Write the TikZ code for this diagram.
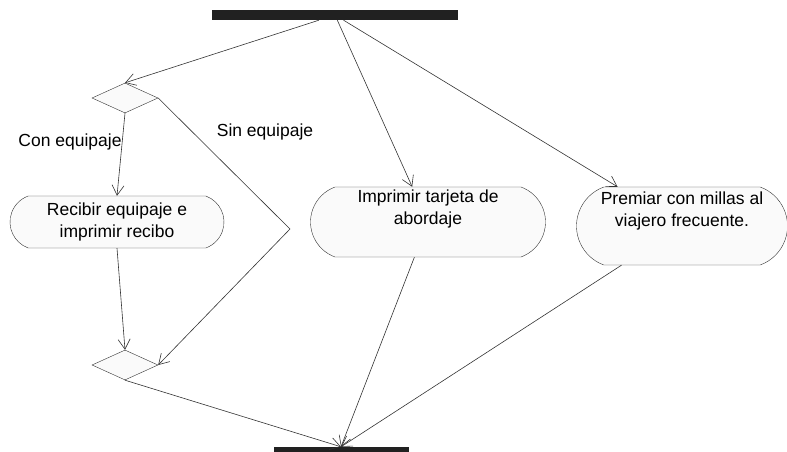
\documentclass[tikz,border=0pt]{standalone}
\usepackage{fontspec}
\setmainfont{Liberation Sans}
\usetikzlibrary{arrows.meta,shapes.geometric,shapes.misc}

\begin{document}
\begin{tikzpicture}
	[x=1pt,y=-1pt,>={Straight Barb[length=10pt,width=12pt]},
	every node/.style={font=\fontsize{17.5}{22}\selectfont},
	bar/.style={rectangle, fill=black!87, inner sep=0pt},
	branch/.style={diamond, draw=black!80, fill=black!2, inner sep=0pt, minimum width=66pt, minimum height=30pt},
	action/.style={rounded rectangle, rounded rectangle arc length=140, draw=black!80, fill=black!2, align=center, inner sep=0pt}]
	\useasboundingbox (0,0) rectangle (787,452);
	\node[bar, minimum width=246pt, minimum height=10pt] (fork) at (335,15) {};
	\node[branch] (d1) at (125,98) {};
	\node[action, minimum width=214pt, minimum height=52pt] (a1) at (117,222) {Recibir equipaje e\\imprimir recibo};
	\node[action, minimum width=235pt, minimum height=70pt, text depth=30pt] (a2) at (428,222) {Imprimir tarjeta de\\abordaje};
	\node[action, minimum width=211pt, minimum height=78pt, text depth=34pt] (a3) at (682,226) {Premiar con millas al\\viajero frecuente.};
	\node[branch] (d2) at (125,365) {};
	\node[bar, minimum width=135pt, minimum height=9pt] (join) at (341,451.5) {};
	\coordinate (bend) at (290,229);
	\node (con) at (70,142) {Con equipaje};
	\node (sin) at (265,132) {Sin equipaje};
	
	\foreach \from/\to in {fork/d1.north,fork/a2,fork/a3,d1.south/a1.north,a1.south/d2.north,d2.south/join.north,a2/join.north,a3/join.north}
		\draw[->, black!80, line width=0.6pt] (\from) -- (\to);
	\draw[->, black!80, line width=0.6pt] (d1.east) -- (bend) -- (d2.east);
\end{tikzpicture}
\end{document}
